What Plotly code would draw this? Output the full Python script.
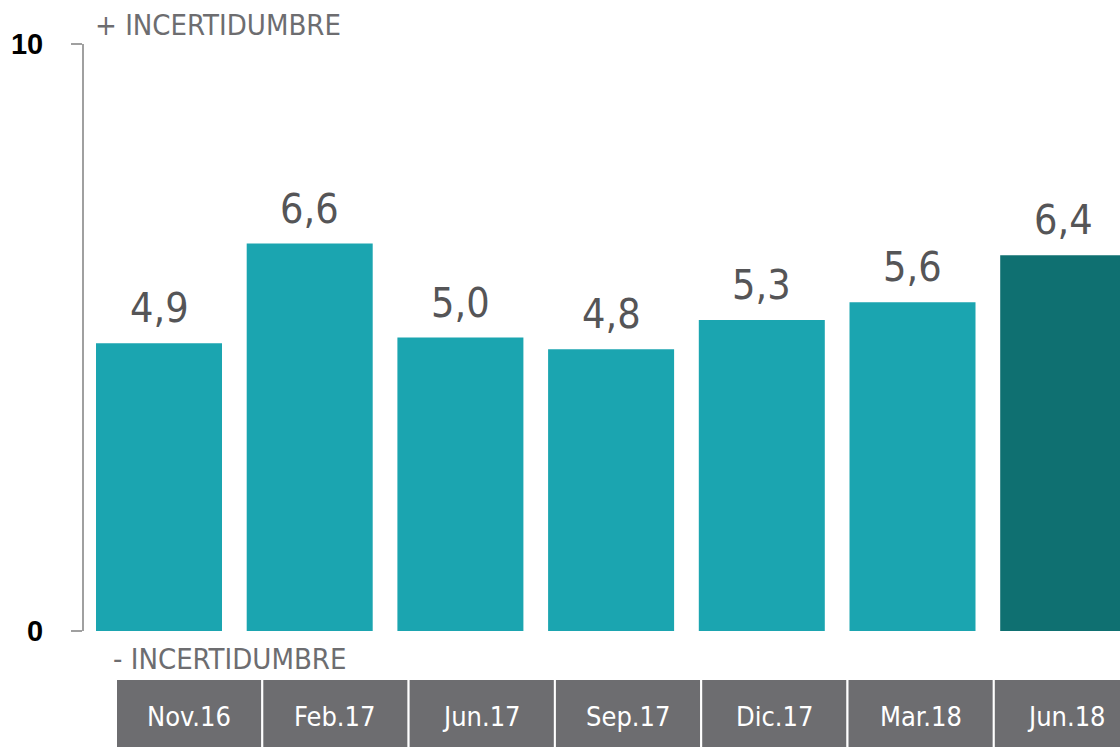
import plotly.graph_objects as go

categories = ["Nov.16", "Feb.17", "Jun.17", "Sep.17", "Dic.17", "Mar.18", "Jun.18"]
values = [4.9, 6.6, 5.0, 4.8, 5.3, 5.6, 6.4]
value_labels = ["4,9", "6,6", "5,0", "4,8", "5,3", "5,6", "6,4"]
bar_colors = ["#1BA5B0"] * 6 + ["#0F7071"]
y_ticks = [0, 10]
y_tick_labels = ["0", "10"]

NARROW = "Liberation Sans Narrow, Arial Narrow, DejaVu Sans Condensed, sans-serif"
W, H = 1120, 747
ML, MR, MT, MB = 84, 0, 44, 116
PW = W - ML - MR
PH = H - MT - MB

fig = go.Figure()
fig.add_trace(go.Bar(
    x=list(range(len(categories))), y=values,
    marker=dict(color=bar_colors, line=dict(width=0)),
    hoverinfo="skip",
))

for i, (v, t) in enumerate(zip(values, value_labels)):
    fig.add_annotation(x=i, y=v, text=t, showarrow=False, xanchor="center", yanchor="bottom",
                       yshift=9, font=dict(family=NARROW, size=41, color="#555557"))

# category label boxes (table below the chart)
box_left0 = 116 - ML
box_w = 146.3
y0p = -(679 - (MT + PH)) / PH
y1p = -(H + 4 - (MT + PH)) / PH
for i, c in enumerate(categories):
    x0 = (box_left0 + i * box_w) / PW
    x1 = (box_left0 + (i + 1) * box_w) / PW
    fig.add_shape(type="rect", xref="paper", yref="paper", x0=x0, x1=min(x1, 1.005), y0=y0p, y1=y1p,
                  fillcolor="#6D6D70", line=dict(color="white", width=2), layer="above")
    fig.add_annotation(xref="paper", yref="paper", x=(x0 + x1) / 2, y=-(717 - (MT + PH)) / PH,
                       text=c, showarrow=False, xanchor="center", yanchor="middle",
                       font=dict(family=NARROW, size=27, color="white"))

fig.add_annotation(xref="paper", yref="paper", x=(93 - ML) / PW, y=1 + (MT - 25) / PH,
                   text="+ INCERTIDUMBRE", showarrow=False, xanchor="left", yanchor="middle",
                   font=dict(family=NARROW, size=29, color="#6D6D70"))
fig.add_annotation(xref="paper", yref="paper", x=(111 - ML) / PW, y=-(659 - (MT + PH)) / PH,
                   text="- INCERTIDUMBRE", showarrow=False, xanchor="left", yanchor="middle",
                   font=dict(family=NARROW, size=29, color="#6D6D70"))

px_per_cat = 150.7
c0 = 159
fig.update_layout(
    width=W, height=H,
    margin=dict(l=ML, r=MR, t=MT, b=MB, pad=0),
    paper_bgcolor="white", plot_bgcolor="white",
    showlegend=False,
    bargap=1 - 126 / px_per_cat,
    xaxis=dict(range=[-(c0 - ML) / px_per_cat, (W - c0) / px_per_cat], showticklabels=False,
               showgrid=False, zeroline=False, showline=False, ticks=""),
    yaxis=dict(range=[0, 10], tickvals=y_ticks, ticktext=y_tick_labels, showgrid=False, zeroline=False,
               showline=True, linecolor="#A0A0A0", linewidth=2, ticks="outside", ticklen=11,
               tickcolor="#A0A0A0", tickwidth=2, ticklabelstandoff=22,
               tickfont=dict(family="Liberation Sans, Arial, sans-serif", size=29, color="black", weight="bold")),
)
fig.write_html("out.html", config={"displayModeBar": False},
               post_script="document.body.style.margin='0';document.body.style.overflow='hidden';")
